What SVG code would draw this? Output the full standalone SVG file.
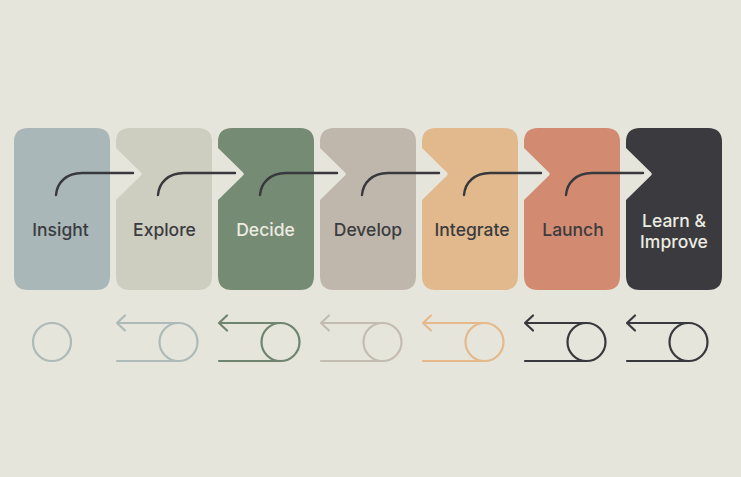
<svg xmlns="http://www.w3.org/2000/svg" width="741" height="477" viewBox="0 0 741 477">
<defs>
<style>
.lbl{font-family:Inter,"Liberation Sans",sans-serif;font-size:17.5px;font-weight:500;text-anchor:middle}
.dk{fill:#3b3c3f}
.lt{fill:#ecece2}
.con{fill:none;stroke:#38393c;stroke-width:2.4;stroke-linecap:round}
.ic{fill:none;stroke-width:2.2;stroke-linecap:round;stroke-linejoin:round}
</style>
<path id="card" d="M14,0 H82 Q96,0 96,14 V148 Q96,162 82,162 H14 Q0,162 0,148 V72 L25,47.5 Q26.5,46 25,44.5 L0,20 V14 Q0,0 14,0 Z"/>
<path id="card1" d="M14,0 H82 Q96,0 96,14 V148 Q96,162 82,162 H14 Q0,162 0,148 V14 Q0,0 14,0 Z"/>
<g id="icon">
<circle cx="62.5" cy="342" r="19"/>
<path d="M1,323 H62.5 M1,361 H62.5 M1,323 L9,315.5 M1,323 L9,330.5"/>
</g>
</defs>
<rect width="741" height="477" fill="#e6e5dc"/>
<g id="insight" transform="translate(14,128)">
<use href="#card1" fill="#a9b7b8"/>
<text class="lbl dk" x="46.5" y="107.5">Insight</text>
</g>
<g id="explore" transform="translate(116,128)">
<use href="#card" fill="#cdcdc0"/>
<text class="lbl dk" x="48.5" y="107.5">Explore</text>
</g>
<g id="decide" transform="translate(218,128)">
<use href="#card" fill="#768b74"/>
<text class="lbl lt" x="47.5" y="107.5">Decide</text>
</g>
<g id="develop" transform="translate(320,128)">
<use href="#card" fill="#c0b7ac"/>
<text class="lbl dk" x="48" y="107.5">Develop</text>
</g>
<g id="integrate" transform="translate(422,128)">
<use href="#card" fill="#e2b98d"/>
<text class="lbl dk" x="50" y="107.5">Integrate</text>
</g>
<g id="launch" transform="translate(524,128)">
<use href="#card" fill="#d28b71"/>
<text class="lbl dk" x="49" y="107.5">Launch</text>
</g>
<g id="learn" transform="translate(626,128)">
<use href="#card" fill="#3b3b3f"/>
<text class="lbl lt" x="48" y="99">Learn &amp;</text>
<text class="lbl lt" x="48" y="120">Improve</text>
</g>
<g id="connectors">
<path class="con" d="M56,195 C57,183 66,173 82,173 H133"/>
<path class="con" d="M158,195 C159,183 168,173 184,173 H235"/>
<path class="con" d="M260,195 C261,183 270,173 286,173 H337"/>
<path class="con" d="M362,195 C363,183 372,173 388,173 H439"/>
<path class="con" d="M464,195 C465,183 474,173 490,173 H541"/>
<path class="con" d="M566,195 C567,183 576,173 592,173 H643"/>
</g>
<g id="icons">
<circle class="ic" cx="52" cy="342" r="19" stroke="#aebab8"/>
<use href="#icon" class="ic" stroke="#aebab8" transform="translate(116,0)"/>
<use href="#icon" class="ic" stroke="#6f856f" transform="translate(218,0)"/>
<use href="#icon" class="ic" stroke="#c3bcb1" transform="translate(320,0)"/>
<use href="#icon" class="ic" stroke="#e6b98b" transform="translate(422,0)"/>
<use href="#icon" class="ic" stroke="#38393c" transform="translate(524,0)"/>
<use href="#icon" class="ic" stroke="#38393c" transform="translate(626,0)"/>
</g>
</svg>
